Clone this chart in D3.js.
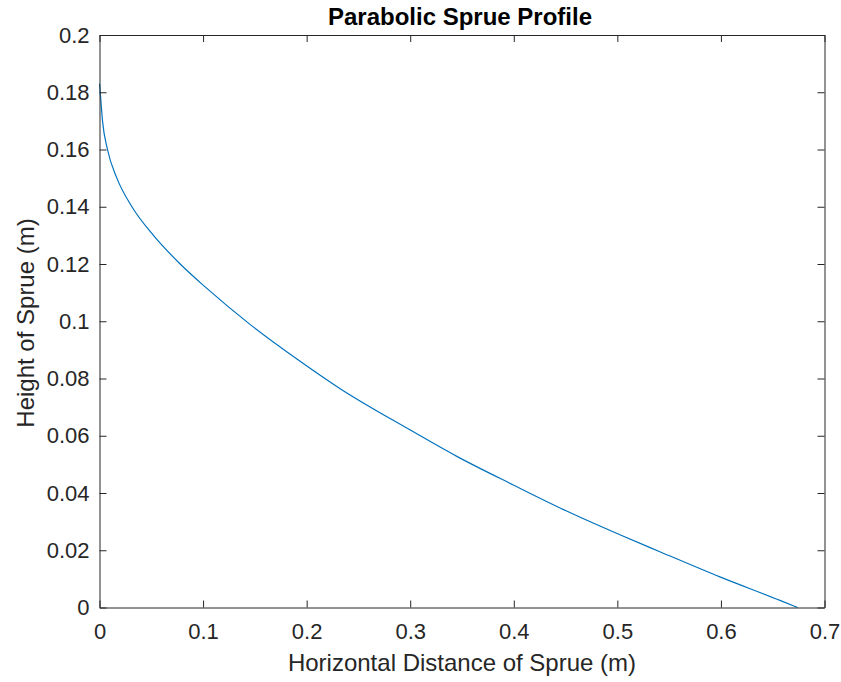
<!DOCTYPE html>
<html>
<head>
<meta charset="utf-8">
<script src="https://cdn.jsdelivr.net/npm/d3@7/dist/d3.min.js"></script>
<style>
  html, body { margin: 0; padding: 0; background: #ffffff; }
  svg { display: block; }
  text { font-family: "Liberation Sans", Arial, Helvetica, sans-serif; fill: #262626; }
</style>
</head>
<body>
<svg id="chart" width="841" height="682"></svg>
<script>
// ---- Data ----
const horizontalDistance = [0, 0.0007, 0.0029, 0.0077, 0.0168, 0.0313, 0.0521, 0.0779, 0.102, 0.145, 0.1937, 0.232, 0.300, 0.345, 0.3996, 0.451, 0.5019, 0.541, 0.599, 0.657, 0.674];
const sprueHeight        = [0.183, 0.180, 0.170, 0.160, 0.150, 0.140, 0.130, 0.120, 0.1120, 0.0990, 0.0860, 0.0765, 0.0620, 0.0528, 0.0428, 0.0337, 0.0255, 0.0195, 0.0107, 0.0025, 0];
const xTicks = [0, 0.1, 0.2, 0.3, 0.4, 0.5, 0.6, 0.7];
const yTicks = [0, 0.02, 0.04, 0.06, 0.08, 0.1, 0.12, 0.14, 0.16, 0.18, 0.2];
const xTickLabels = ["0", "0.1", "0.2", "0.3", "0.4", "0.5", "0.6", "0.7"];
const yTickLabels = ["0", "0.02", "0.04", "0.06", "0.08", "0.1", "0.12", "0.14", "0.16", "0.18", "0.2"];
const titleText = "Parabolic Sprue Profile";
const xLabelText = "Horizontal Distance of Sprue (m)";
const yLabelText = "Height of Sprue (m)";

// ---- Layout ----
const mLeft = 99.5, mRight = 824.5, mTop = 35, mBottom = 607.5;
const svg = d3.select("#chart");
const x = d3.scaleLinear().domain([0, 0.7]).range([mLeft, mRight]);
const y = d3.scaleLinear().domain([0, 0.2]).range([mBottom, mTop]);
const axisColor = "#262626";
const tickLen = 7;
const fontSize = 22;

svg.append("rect")
  .attr("x", mLeft).attr("y", mTop)
  .attr("width", mRight - mLeft).attr("height", mBottom - mTop)
  .attr("fill", "#ffffff");

const data = horizontalDistance.map((d, i) => ({ x: d, y: sprueHeight[i] }));
svg.append("path")
  .datum(data)
  .attr("fill", "none")
  .attr("stroke", "#0072BD")
  .attr("stroke-width", 1.2)
  .attr("d", d3.line().x(d => x(d.x)).y(d => y(d.y)).curve(d3.curveMonotoneX));

function styleAxis(g) {
  g.select(".domain").attr("stroke", axisColor).attr("stroke-width", 1);
  g.selectAll(".tick line").attr("stroke", axisColor).attr("stroke-width", 1);
  g.selectAll(".tick text").attr("fill", axisColor).style("font-size", fontSize + "px")
    .style("font-family", '"Liberation Sans", Arial, sans-serif');
}

const xAxis = d3.axisBottom(x).tickValues(xTicks)
  .tickFormat((d, i) => xTickLabels[i]).tickSizeInner(-tickLen).tickSizeOuter(0).tickPadding(15.5);
svg.append("g").attr("transform", `translate(0,${mBottom})`).call(xAxis).call(styleAxis);

const xAxisTop = d3.axisTop(x).tickValues(xTicks).tickFormat("").tickSizeInner(-tickLen).tickSizeOuter(0);
svg.append("g").attr("transform", `translate(0,${mTop})`).call(xAxisTop).call(styleAxis);

const yAxis = d3.axisLeft(y).tickValues(yTicks)
  .tickFormat((d, i) => yTickLabels[i]).tickSizeInner(-tickLen).tickSizeOuter(0).tickPadding(10);
svg.append("g").attr("transform", `translate(${mLeft},0)`).call(yAxis).call(styleAxis);

const yAxisRight = d3.axisRight(y).tickValues(yTicks).tickFormat("").tickSizeInner(-tickLen).tickSizeOuter(0);
svg.append("g").attr("transform", `translate(${mRight},0)`).call(yAxisRight).call(styleAxis);

svg.append("text")
  .attr("x", 460).attr("y", 25)
  .attr("text-anchor", "middle")
  .style("font-size", "24px").style("font-weight", "bold")
  .style("fill", "#000")
  .text(titleText);

svg.append("text")
  .attr("x", (mLeft + mRight) / 2).attr("y", 671)
  .attr("text-anchor", "middle")
  .style("font-size", "24px")
  .text(xLabelText);

svg.append("text")
  .attr("transform", `translate(33.5,323) rotate(-90)`)
  .attr("text-anchor", "middle")
  .style("font-size", "24px")
  .text(yLabelText);
</script>
</body>
</html>
